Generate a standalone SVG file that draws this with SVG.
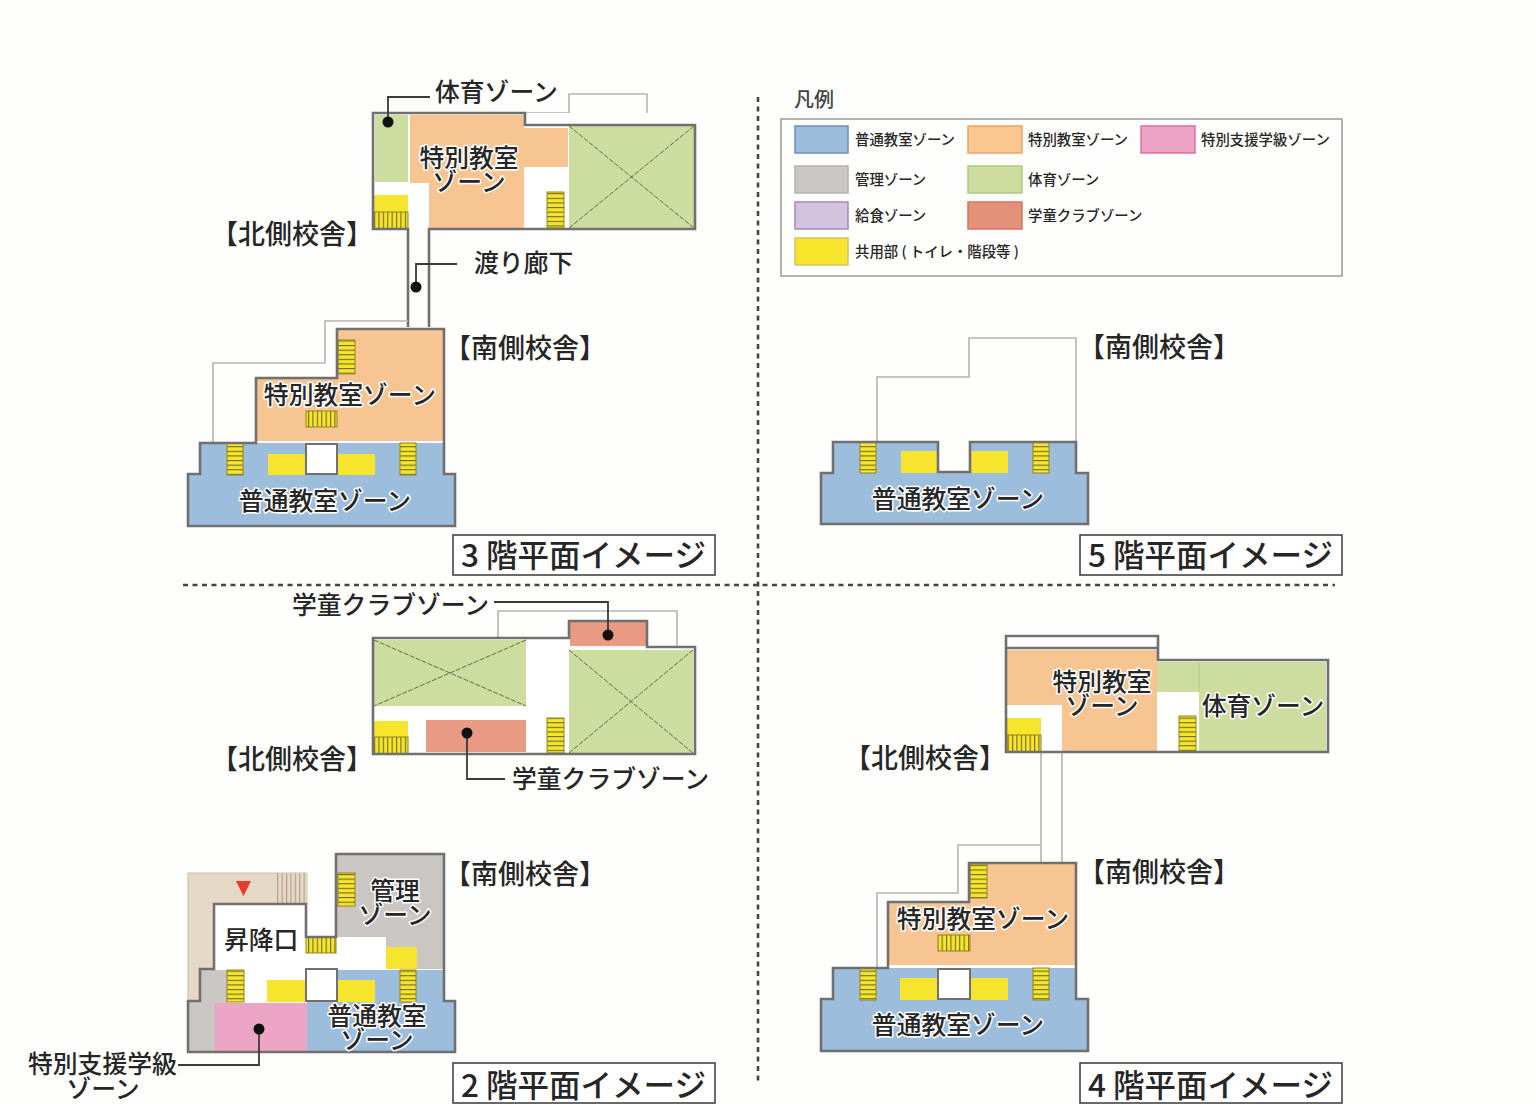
<svg xmlns="http://www.w3.org/2000/svg" width="1536" height="1104" viewBox="0 0 1536 1104">
<style>
text{font-family:"Noto Sans CJK JP","Noto Sans CJK SC",sans-serif;fill:#262626;dominant-baseline:central;font-weight:500}
.t{font-size:24.8px}
.s{font-size:27px}
.m{text-anchor:middle}
.h{stroke:#fff;stroke-width:3px;paint-order:stroke;stroke-linejoin:round}
.l{font-size:14.4px}
.b{font-size:31.5px}
.w{fill:none;stroke:#707070;stroke-width:2.6}
.o{fill:none;stroke:#b4b4b4;stroke-width:1.6}
.bl{fill:#9dbddc}.or{fill:#f7c592}.gr{fill:#cddc9f}.ad{fill:#c9c6c4}.pk{fill:#eda5c5}.rd{fill:#e99a82}.ye{fill:#f6e52c}.wh{fill:#fff}.be{fill:#e6d8c7;stroke:#c9bca8;stroke-width:1}
.sh{fill:url(#sh);stroke:#8f8320;stroke-width:1}
.sv{fill:url(#sv);stroke:#8f8320;stroke-width:1}
.x{stroke:#5f6f4c;stroke-width:1;stroke-dasharray:5 1.5;fill:none}
.c{fill:none;stroke:#3a3a3a;stroke-width:1.8}
.d{fill:#111;stroke:none}
.box{fill:#fff;stroke:#444;stroke-width:1.6}
.div{fill:none;stroke:#444;stroke-width:2.6;stroke-dasharray:5 4.5}
.sw{stroke-width:1.5}
</style>
<defs>
<pattern id="sh" patternUnits="userSpaceOnUse" width="4.6" height="4.6"><rect width="4.6" height="4.6" fill="#f6e52c"/><rect width="4.6" height="1.1" fill="#6f6a20"/></pattern>
<pattern id="sv" patternUnits="userSpaceOnUse" width="4.4" height="4.4"><rect width="4.4" height="4.4" fill="#f6e52c"/><rect width="1.1" height="4.4" fill="#6f6a20"/></pattern>
<pattern id="sb" patternUnits="userSpaceOnUse" width="4.4" height="4.4"><rect width="4.4" height="4.4" fill="#e6d8c7"/><rect width="1.1" height="4.4" fill="#b39b84"/></pattern>
</defs>
<rect width="1536" height="1104" fill="#fefefc"/>

<g id="dividers">
<path class="div" d="M758 97V1085"/>
<path class="div" d="M183 585H1335"/>
</g>

<g id="legend">
<text x="794" y="98" style="font-size:20px;fill:#444">凡例</text>
<rect x="781" y="119" width="561" height="157" fill="none" stroke="#999" stroke-width="1.5"/>
<rect class="sw" x="795" y="126" width="53" height="27" fill="#9dbddc" stroke="#6f8fb8"/>
<rect class="sw" x="968" y="126" width="54" height="27" fill="#f9c78f" stroke="#eea45f"/>
<rect class="sw" x="1141" y="126" width="54" height="27" fill="#eda5c5" stroke="#dc6f9f"/>
<rect class="sw" x="795" y="166" width="53" height="27" fill="#c9c6c4" stroke="#b5b2b0"/>
<rect class="sw" x="968" y="166" width="54" height="27" fill="#cddc9f" stroke="#a9cc80"/>
<rect class="sw" x="795" y="202" width="53" height="27" fill="#d3c2e0" stroke="#a588bd"/>
<rect class="sw" x="968" y="202" width="54" height="27" fill="#e4917a" stroke="#d8765e"/>
<rect class="sw" x="795" y="238" width="53" height="27" fill="#f6e52c" stroke="#cfc36a"/>
<text class="l" x="855" y="138.500">普通教室ゾーン</text>
<text class="l" x="1028" y="138.500">特別教室ゾーン</text>
<text class="l" x="1201" y="138.500">特別支援学級ゾーン</text>
<text class="l" x="855" y="178.500">管理ゾーン</text>
<text class="l" x="1028" y="178.500">体育ゾーン</text>
<text class="l" x="855" y="214.500">給食ゾーン</text>
<text class="l" x="1028" y="214.500">学童クラブゾーン</text>
<text class="l" x="855" y="250.500">共用部 ( トイレ・階段等 )</text>
</g>

<g id="floor3-north">
<path class="o" d="M526 113H569V94H647V125"/>
<rect class="wh" x="373" y="113" width="322" height="116"/>
<rect class="gr" x="375" y="115" width="33" height="67"/>
<path class="or" d="M410 115H524V229H429V183H410Z"/>
<rect class="or" x="524" y="128" width="44" height="39"/>
<rect class="gr" x="569" y="126" width="125" height="102"/>
<path class="x" d="M569 126L694 228M694 126L569 228"/>
<rect class="ye" x="374" y="195" width="34" height="17"/>
<rect class="sv" x="374" y="212" width="34" height="17"/>
<rect class="sh" x="547" y="192" width="17" height="36"/>
<path class="w" d="M408 327V229H373V113H525V125H695V229H429V327"/>
<text class="t m h" x="469" y="156">特別教室</text>
<text class="t m h" x="469" y="180">ゾーン</text>
<text class="t" x="435" y="90">体育ゾーン</text>
<text class="s" x="211" y="232">【北側校舎】</text>
<text class="t" x="474" y="261">渡り廊下</text>
</g>

<g id="floor3-south">
<path class="o" d="M213 443V363H325V321H408"/>
<path class="bl" d="M188 526V474H200V443H444V474H455V526Z"/>
<path class="or" d="M256 441V378H337V329H444V441Z"/>
<rect class="wh" x="256" y="441" width="188" height="2"/>
<rect class="wh" x="306" y="444" width="31" height="30"/>
<rect class="ye" x="268" y="454" width="37" height="21"/>
<rect class="ye" x="338" y="454" width="37" height="21"/>
<rect class="sh" x="227" y="443" width="16" height="32"/>
<rect class="sh" x="400" y="443" width="16" height="32"/>
<rect class="sh" x="338" y="340" width="17" height="34"/>
<rect class="sv" x="306" y="411" width="31" height="16"/>
<rect x="306" y="444" width="31" height="30" fill="none" stroke="#707070" stroke-width="2"/>
<path class="w" d="M188 526V474H200V443H256V378H337V329H444V474H455V526Z"/>
<text class="t m h" x="350" y="393">特別教室ゾーン</text>
<text class="t m h" x="325" y="499">普通教室ゾーン</text>
<text class="s" x="444" y="346">【南側校舎】</text>
<rect class="box" x="453" y="535" width="262" height="40"/>
<text class="b" x="461" y="553">3 階平面イメージ</text>
</g>

<g id="floor5">
<path class="o" d="M877 442V377H969V338H1076V442"/>
<path class="bl" d="M821 524V473H833V442H938V472H970V442H1076V473H1088V524Z"/>
<rect class="ye" x="901" y="451" width="36" height="22"/>
<rect class="ye" x="971" y="451" width="37" height="22"/>
<rect class="sh" x="860" y="442" width="16" height="31"/>
<rect class="sh" x="1033" y="442" width="16" height="31"/>
<path class="w" d="M821 524V473H833V442H938V472H970V442H1076V473H1088V524Z"/>
<text class="t m h" x="958" y="497">普通教室ゾーン</text>
<text class="s" x="1078" y="345">【南側校舎】</text>
<rect class="box" x="1080" y="535" width="262" height="40"/>
<text class="b" x="1088" y="553">5 階平面イメージ</text>
</g>

<g id="floor2-north">
<path class="o" d="M498 638V611H677V647"/>
<path class="wh" d="M373 638H569V621H647V647H695V754H373Z"/>
<rect class="gr" x="374" y="640" width="152" height="66"/>
<path class="x" d="M374 640L526 706M526 640L374 706"/>
<rect class="gr" x="569" y="650" width="124" height="103"/>
<path class="x" d="M569 650L693 753M693 650L569 753"/>
<rect class="rd" x="570" y="622" width="76" height="24"/>
<rect class="rd" x="426" y="720" width="100" height="32"/>
<rect class="ye" x="374" y="721" width="34" height="16"/>
<rect class="sv" x="374" y="737" width="34" height="17"/>
<rect class="sh" x="547" y="718" width="17" height="35"/>
<path class="w" d="M373 638H569V621H647V647H695V754H373Z"/>
<text class="t" x="292" y="603">学童クラブゾーン</text>
<text class="t" x="512" y="777">学童クラブゾーン</text>
<text class="s" x="211" y="757">【北側校舎】</text>
</g>

<g id="floor2-south">
<path class="be" d="M188 873H307V904H214V969H200V1001H188Z"/>
<rect x="277" y="873" width="30" height="30" fill="url(#sb)"/>
<path d="M236 881H251L243.500 896Z" fill="#e8392a"/>
<rect class="wh" x="214" y="904" width="230" height="99"/>
<path class="ad" d="M336 854H444V969H386V937H336Z"/>
<rect class="ye" x="386" y="947" width="31" height="22"/>
<rect class="ad" x="200" y="970" width="27" height="33"/>
<rect class="ad" x="189" y="1002" width="26" height="49"/>
<rect class="pk" x="215" y="1003" width="92" height="48"/>
<path class="bl" d="M337 970H444V1002H455V1051H307V1002H337Z"/>
<rect class="wh" x="306" y="969" width="31" height="32"/>
<rect class="ye" x="267" y="980" width="38" height="22"/>
<rect class="ye" x="338" y="980" width="37" height="22"/>
<rect class="sh" x="227" y="970" width="17" height="32"/>
<rect class="sh" x="400" y="970" width="16" height="32"/>
<rect class="sh" x="338" y="873" width="17" height="33"/>
<rect class="sv" x="306" y="937" width="30" height="16"/>
<rect x="306" y="969" width="31" height="32" fill="none" stroke="#707070" stroke-width="2"/>
<path class="w" d="M188 1001H200V969H214V904H306V937H336V854H444V1001H455V1052H188Z"/>
<text class="t m h" x="395" y="889">管理</text>
<text class="t m h" x="395" y="913">ゾーン</text>
<text class="t" x="224" y="938">昇降口</text>
<text class="t m h" x="377" y="1014">普通教室</text>
<text class="t m h" x="377" y="1038">ゾーン</text>
<text class="t" x="28" y="1062">特別支援学級</text>
<text class="t m" x="103" y="1087">ゾーン</text>
<text class="s" x="444" y="872">【南側校舎】</text>
<rect class="box" x="453" y="1063" width="262" height="40"/>
<text class="b" x="461" y="1083">2 階平面イメージ</text>
</g>

<g id="floor4-north">
<path class="o" d="M1041 753V863M1062 753V863M1041 845H958V893H877V968"/>
<path class="wh" d="M1006 636H1158V660H1328V752H1006Z"/>
<path class="or" d="M1007 650H1157V752H1062V705H1007Z"/>
<rect class="gr" x="1157" y="662" width="42" height="30"/>
<rect class="gr" x="1199" y="662" width="127" height="89"/>
<path d="M1199 662V692" stroke="#a9cc80" stroke-width="1" fill="none"/>
<rect class="ye" x="1007" y="718" width="34" height="17"/>
<rect class="sv" x="1007" y="735" width="34" height="17"/>
<rect class="sh" x="1179" y="716" width="17" height="35"/>
<path class="w" d="M1006 636H1158V660H1328V752H1006ZM1006 648H1158"/>
<text class="t m h" x="1102" y="680">特別教室</text>
<text class="t m h" x="1102" y="704">ゾーン</text>
<text class="t m h" x="1263" y="704">体育ゾーン</text>
<text class="s" x="844" y="756">【北側校舎】</text>
</g>

<g id="floor4-south">
<path class="bl" d="M821 1051V999H833V968H1076V999H1088V1051Z"/>
<path class="or" d="M888 965V902H969V863H1076V965Z"/>
<rect class="wh" x="888" y="965" width="188" height="3"/>
<rect class="wh" x="938" y="969" width="32" height="30"/>
<rect class="ye" x="900" y="978" width="38" height="22"/>
<rect class="ye" x="971" y="978" width="37" height="22"/>
<rect class="sh" x="860" y="968" width="16" height="32"/>
<rect class="sh" x="1033" y="968" width="16" height="32"/>
<rect class="sh" x="970" y="864" width="17" height="34"/>
<rect class="sv" x="938" y="935" width="32" height="16"/>
<rect x="938" y="969" width="32" height="30" fill="none" stroke="#707070" stroke-width="2"/>
<path class="w" d="M821 1051V999H833V968H888V902H969V863H1076V999H1088V1051Z"/>
<text class="t m h" x="983" y="917">特別教室ゾーン</text>
<text class="t m h" x="958" y="1023">普通教室ゾーン</text>
<text class="s" x="1078" y="870">【南側校舎】</text>
<rect class="box" x="1080" y="1063" width="262" height="40"/>
<text class="b" x="1088" y="1083">4 階平面イメージ</text>
</g>

<g id="connectors">
<path class="c" d="M388 122V97H430"/>
<circle class="d" cx="388" cy="122" r="5.500"/>
<path class="c" d="M416 287V264H457"/>
<circle class="d" cx="416" cy="287" r="5.500"/>
<path class="c" d="M494 602H608V635"/>
<circle class="d" cx="608" cy="635" r="5.500"/>
<path class="c" d="M467 733V779H505"/>
<circle class="d" cx="467" cy="733" r="5.500"/>
<path class="c" d="M259 1029V1065H178"/>
<circle class="d" cx="259" cy="1029" r="5.500"/>
</g>
</svg>
